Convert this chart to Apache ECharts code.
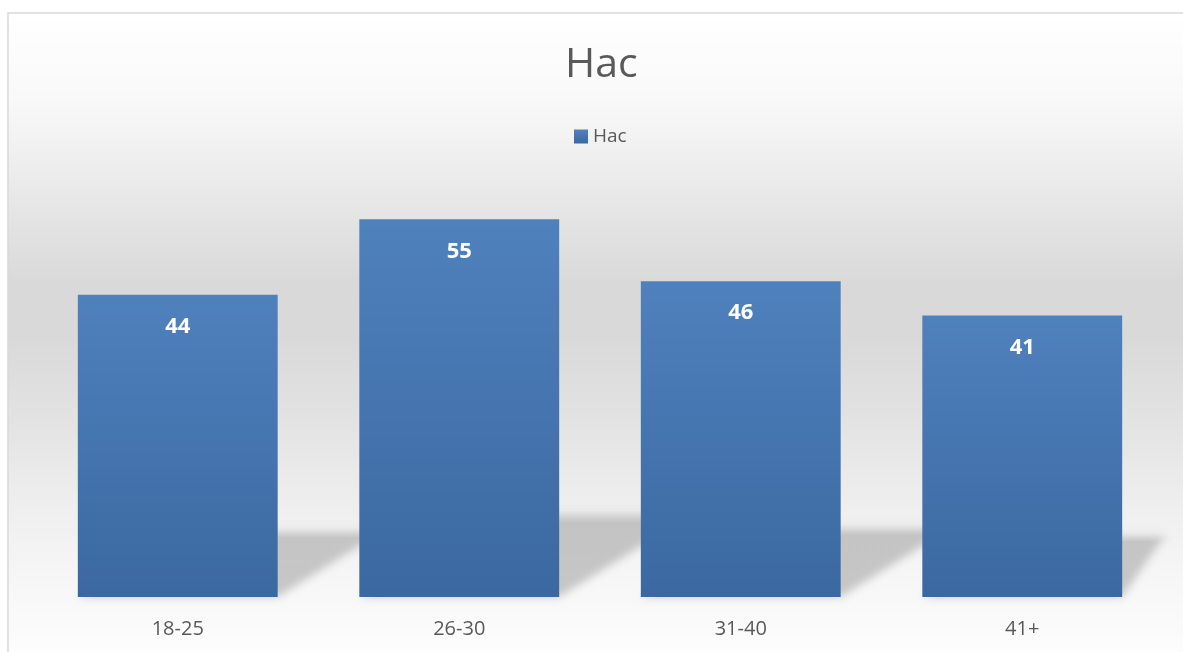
<!DOCTYPE html>
<html>
<head>
<meta charset="utf-8">
<title>Нас</title>
<script src="https://cdn.jsdelivr.net/npm/echarts@6/dist/echarts.min.js"></script>
<style>
  html, body { margin: 0; padding: 0; background: #ffffff; }
  #chart { width: 1183px; height: 652px; }
</style>
</head>
<body>
<div id="chart"></div>
<script>
// Age groups and counts
const categories = ['18-25', '26-30', '31-40', '41+'];
const values = [44, 55, 46, 41];
const seriesName = 'Нас';

const FONT = "'Open Sans', 'Noto Sans', sans-serif";
const TEXT_GREY = '#595959';
const BAR_WIDTH_RATIO = 0.71;
// The shadow shape is drawn off to the side and only its blurred canvas
// shadow is shifted back in place, which gives fully soft edges.
const SHADOW_SHIFT = 4000;

const chart = echarts.init(document.getElementById('chart'));

// Soft perspective shadow cast by each bar toward the right, behind the bars
function renderShadow(params, api) {
  const idx = api.value(0);
  const base = api.coord([idx, 0]);
  const top = api.coord([idx, api.value(1)]);
  const w = api.size([1, 0])[0] * BAR_WIDTH_RATIO;
  const h = (base[1] - top[1]) * 0.23;
  const dx = h * 1.6;
  const xl = base[0] - w / 2;
  const xr = base[0] + w / 2;
  const yb = base[1];
  const cs = params.coordSys;
  const pts = echarts.graphic.clipPointsByRect([
    [xl, yb], [xr, yb], [xr + dx, yb - h], [xl + dx, yb - h]
  ], { x: cs.x, y: cs.y, width: cs.width + 4, height: cs.height });
  return {
    type: 'polygon',
    shape: { points: pts.map(p => [p[0] - SHADOW_SHIFT, p[1]]) },
    style: {
      fill: new echarts.graphic.LinearGradient(0, 0, 0, 1, [
        { offset: 0, color: 'rgba(0,0,0,0.25)' },
        { offset: 0.15, color: 'rgba(0,0,0,0.95)' },
        { offset: 1, color: 'rgba(0,0,0,1)' }
      ]),
      shadowBlur: 9,
      shadowOffsetX: SHADOW_SHIFT,
      shadowColor: 'rgba(0,0,0,0.20)'
    },
    silent: true
  };
}

const option = {
  animation: false,
  textStyle: { fontFamily: FONT },
  graphic: [{
    type: 'rect',
    z: -10,
    silent: true,
    shape: { x: 8, y: 13, width: 1200, height: 660 },
    style: {
      stroke: '#d9d9d9',
      lineWidth: 1.5,
      fill: new echarts.graphic.LinearGradient(0, 0, 0, 1, [
        { offset: 0, color: '#ffffff' },
        { offset: 0.13, color: '#f9f9f9' },
        { offset: 0.21, color: '#f0f0f0' },
        { offset: 0.33, color: '#e2e2e2' },
        { offset: 0.41, color: '#d9d9d9' },
        { offset: 0.49, color: '#d9d9d9' },
        { offset: 0.62, color: '#e3e3e3' },
        { offset: 0.74, color: '#eeeeee' },
        { offset: 0.85, color: '#f6f6f6' },
        { offset: 0.94, color: '#fbfbfb' },
        { offset: 1, color: '#ffffff' }
      ])
    }
  }],
  title: {
    text: 'Нас',
    left: 560,
    top: 40,
    textStyle: {
      fontFamily: FONT,
      fontSize: 41,
      fontWeight: 'normal',
      color: TEXT_GREY
    }
  },
  legend: {
    data: [seriesName],
    left: 569,
    top: 122,
    icon: 'rect',
    itemWidth: 14,
    itemHeight: 14,
    itemGap: 6,
    textStyle: { fontFamily: FONT, fontSize: 19, color: TEXT_GREY, padding: [0, 0, 0, 0] }
  },
  grid: { left: 37, right: 20, top: 185, bottom: 55 },
  xAxis: {
    type: 'category',
    data: categories,
    axisLine: { show: false },
    axisTick: { show: false },
    axisLabel: { margin: 22, fontFamily: FONT, fontSize: 20, color: TEXT_GREY }
  },
  yAxis: {
    type: 'value',
    min: 0,
    max: 60,
    show: false,
    splitLine: { show: false }
  },
  series: [
    {
      name: 'floorShadow',
      type: 'custom',
      z: 1,
      renderItem: renderShadow,
      data: values.map((v, i) => [i, v]),
      encode: { x: 0, y: 1 },
      silent: true,
      tooltip: { show: false }
    },
    {
      name: seriesName,
      type: 'bar',
      z: 3,
      data: values,
      barWidth: (BAR_WIDTH_RATIO * 100) + '%',
      itemStyle: {
        color: new echarts.graphic.LinearGradient(0, 0, 0, 1, [
          { offset: 0, color: '#4f81bd' },
          { offset: 1, color: '#3b68a0' }
        ])
      },
      label: {
        show: true,
        position: 'insideTop',
        distance: 21,
        fontFamily: FONT,
        fontSize: 22,
        fontWeight: 'bold',
        color: '#ffffff'
      }
    }
  ]
};

chart.setOption(option);
</script>
</body>
</html>
